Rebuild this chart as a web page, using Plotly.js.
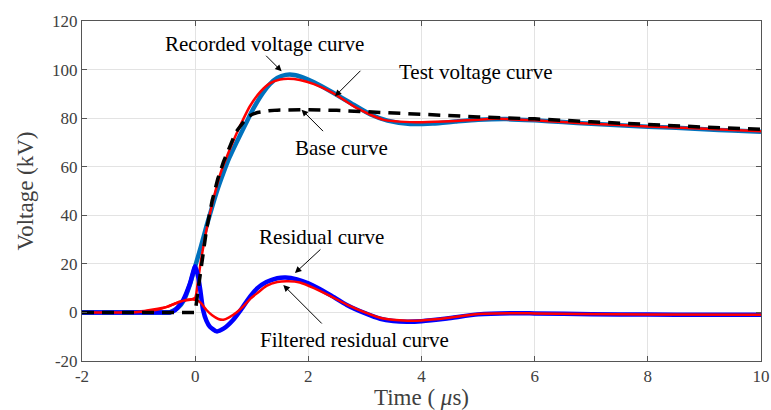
<!DOCTYPE html>
<html>
<head>
<meta charset="utf-8">
<script src="https://cdn.plot.ly/plotly-3.0.1.min.js"></script>
<style>html,body{margin:0;padding:0;background:#fff;}#chart{width:771px;height:410px;}</style>
</head>
<body>
<div id="chart"></div>
<script>
// Recorded voltage curve
const recT = [-2,-1.5,-1,-0.6,-0.45,-0.3,-0.2,-0.1,0,0.1,0.2,0.3,0.4,0.5,0.6,0.73,0.9,1.03,1.2,1.32,1.45,1.6,1.75,1.9,2.1,2.4,2.8,3.1,3.4,3.8,4.2,4.6,5.0,5.5,6,6.5,7,7.5,8,8.5,9,9.5,10];
const recV = [0,0,0,0,0,2,5,11,19,27,35.5,43.5,51,57.5,63.5,70,78,84,90.5,94,96.5,97.8,97.8,96.8,94.8,91,85.5,81.5,79,77.6,77.8,78.6,79.3,79.6,79.1,78.4,77.7,77.1,76.5,76,75.4,74.9,74.4];
// Test voltage curve
const testT = [-2,-1.5,-1,-0.5,-0.27,-0.06,0,0.05,0.1,0.2,0.32,0.45,0.6,0.75,0.97,1.15,1.32,1.5,1.65,1.85,2.1,2.43,2.85,3.32,3.9,4.4,4.8,5.33,6,6.5,7,8,9,10];
const testV = [0,0,0.3,2.3,4.4,5.4,6,13,21,34,46.5,57.5,66.5,74.6,85,90.8,94.3,95.9,96.2,95.7,94,90.4,84.2,79.4,78.3,78.6,79.1,79.7,79.1,78.4,77.7,76.6,75.6,74.6];
// Base curve
const baseT = [-2,0,0.05,0.1,0.15,0.2,0.3,0.4,0.5,0.6,0.67,0.73,0.8,0.85,0.9,0.95,1.02,1.1,1.2,1.3,1.45,1.6,1.8,2.0,2.5,3.0,3.5,4.0,4.5,5.0,5.5,6.0,7,8,9,10];
const baseV = [0,0,9,18,27,34,46,55,62,68,71.5,74.6,77,78.5,79.8,80.8,81.7,82.3,82.7,83,83.3,83.4,83.5,83.5,83.2,82.6,82,81.5,81,80.5,80.1,79.7,78.5,77.3,76.3,75.4];
// Residual curve
const resT = [-2,-1.5,-1,-0.6,-0.45,-0.35,-0.21,-0.09,0,0.05,0.09,0.14,0.2,0.26,0.38,0.5,0.67,0.82,0.97,1.1,1.26,1.45,1.6,1.8,2.0,2.15,2.4,2.68,3.0,3.27,3.5,3.74,4.0,4.45,5.0,5.6,6.0,7,8,9,10];
const resV = [0,0,0,0,0,1,5.2,12,19,15,9.3,1,-3.5,-5.9,-7.8,-6.7,-3.1,1.5,6.5,10,12.5,14.1,14.4,13.6,12,10.3,7,3.1,-0.3,-2.6,-3.5,-3.8,-3.6,-2.5,-0.8,-0.3,-0.4,-0.7,-0.9,-1,-1];
// Filtered residual curve
const filtT = [-2,-1.5,-1,-0.7,-0.5,-0.27,-0.06,0.08,0.2,0.3,0.41,0.5,0.6,0.73,0.85,0.97,1.1,1.26,1.45,1.65,1.85,2.1,2.4,2.7,3.0,3.3,3.75,4.0,4.45,5.0,5.6,6.0,6.8,8,10];
const filtV = [0,0,0.2,1,2.3,4.4,5.4,4.4,1,-1.2,-2.7,-3,-2,0,2.5,5.5,8,10.9,12.5,12.8,12.3,10,6.6,3,0,-2.4,-3.4,-3.3,-2.3,-0.6,-0.3,-0.4,-0.6,-0.9,-1];

const xTicks = [-2,0,2,4,6,8,10];
const yTicks = [-20,0,20,40,60,80,100,120];

const serif = "Liberation Serif, Times New Roman, serif";

const traces = [
  {x: recT, y: recV, mode: 'lines', line: {color: 'rgb(0,114,189)', width: 4.5, shape: 'spline', smoothing: 0.6}, name: 'Recorded voltage curve'},
  {x: testT, y: testV, mode: 'lines', line: {color: '#ff0000', width: 2.5, shape: 'spline', smoothing: 0.6}, name: 'Test voltage curve'},
  {x: resT, y: resV, mode: 'lines', line: {color: '#0000ff', width: 4.5, shape: 'spline', smoothing: 0.6}, name: 'Residual curve'},
  {x: filtT, y: filtV, mode: 'lines', line: {color: '#ff0000', width: 2.5, shape: 'spline', smoothing: 0.6}, name: 'Filtered residual curve'},
  {x: baseT, y: baseV, mode: 'lines', line: {color: '#000000', width: 3.5, dash: '12px,8px', shape: 'linear'}, name: 'Base curve'}
];

function arrow(x, y, ax, ay) {
  return {x: x, y: y, xref: 'x', yref: 'y', ax: ax, ay: ay, text: '', showarrow: true,
          arrowhead: 2, arrowsize: 1.3, arrowwidth: 1, arrowcolor: '#000'};
}
function label(x, y, t) {
  return {x: x, y: y, xref: 'x', yref: 'y', text: t, showarrow: false,
          font: {family: serif, size: 21, color: '#000'}};
}

const layout = {
  width: 771, height: 410,
  margin: {l: 82, r: 10, t: 21, b: 49},
  paper_bgcolor: '#fff', plot_bgcolor: '#fff',
  showlegend: false,
  font: {family: serif, size: 17, color: '#404040'},
  xaxis: {
    range: [-2, 10], tickvals: xTicks, ticktext: xTicks.map(String),
    showgrid: true, gridcolor: '#e3e3e3', gridwidth: 1, zeroline: false,
    showline: true, linecolor: '#555', linewidth: 1, mirror: 'ticks',
    ticks: 'inside', ticklen: 5, tickcolor: '#555',
    tickfont: {family: serif, size: 17, color: '#404040'},
    title: {text: 'Time ( <i>μ</i>s)', font: {family: serif, size: 23, color: '#404040'}, standoff: 0}
  },
  yaxis: {
    range: [-20, 120], tickvals: yTicks, ticktext: yTicks.map(String),
    showgrid: true, gridcolor: '#e3e3e3', gridwidth: 1, zeroline: false,
    showline: true, linecolor: '#555', linewidth: 1, mirror: 'ticks',
    ticks: 'inside', ticklen: 5, tickcolor: '#555',
    tickfont: {family: serif, size: 17, color: '#404040'},
    title: {text: 'Voltage (kV)', font: {family: serif, size: 23, color: '#404040'}, standoff: 12}
  },
  annotations: [
    label(1.233, 110.7, 'Recorded voltage curve'),
    arrow(1.528, 99.3, -17, -17),
    label(4.961, 99.2, 'Test voltage curve'),
    arrow(2.47, 89.0, 27, -27),
    label(2.594, 67.8, 'Base curve'),
    arrow(1.88, 83.5, 23, 23),
    label(2.24, 31.1, 'Residual curve'),
    arrow(1.763, 16.2, 27, -25),
    label(2.823, -11.3, 'Filtered residual curve'),
    arrow(1.557, 11.3, 40, 40)
  ]
};

Plotly.newPlot('chart', traces, layout, {staticPlot: true, displayModeBar: false});
</script>
</body>
</html>
